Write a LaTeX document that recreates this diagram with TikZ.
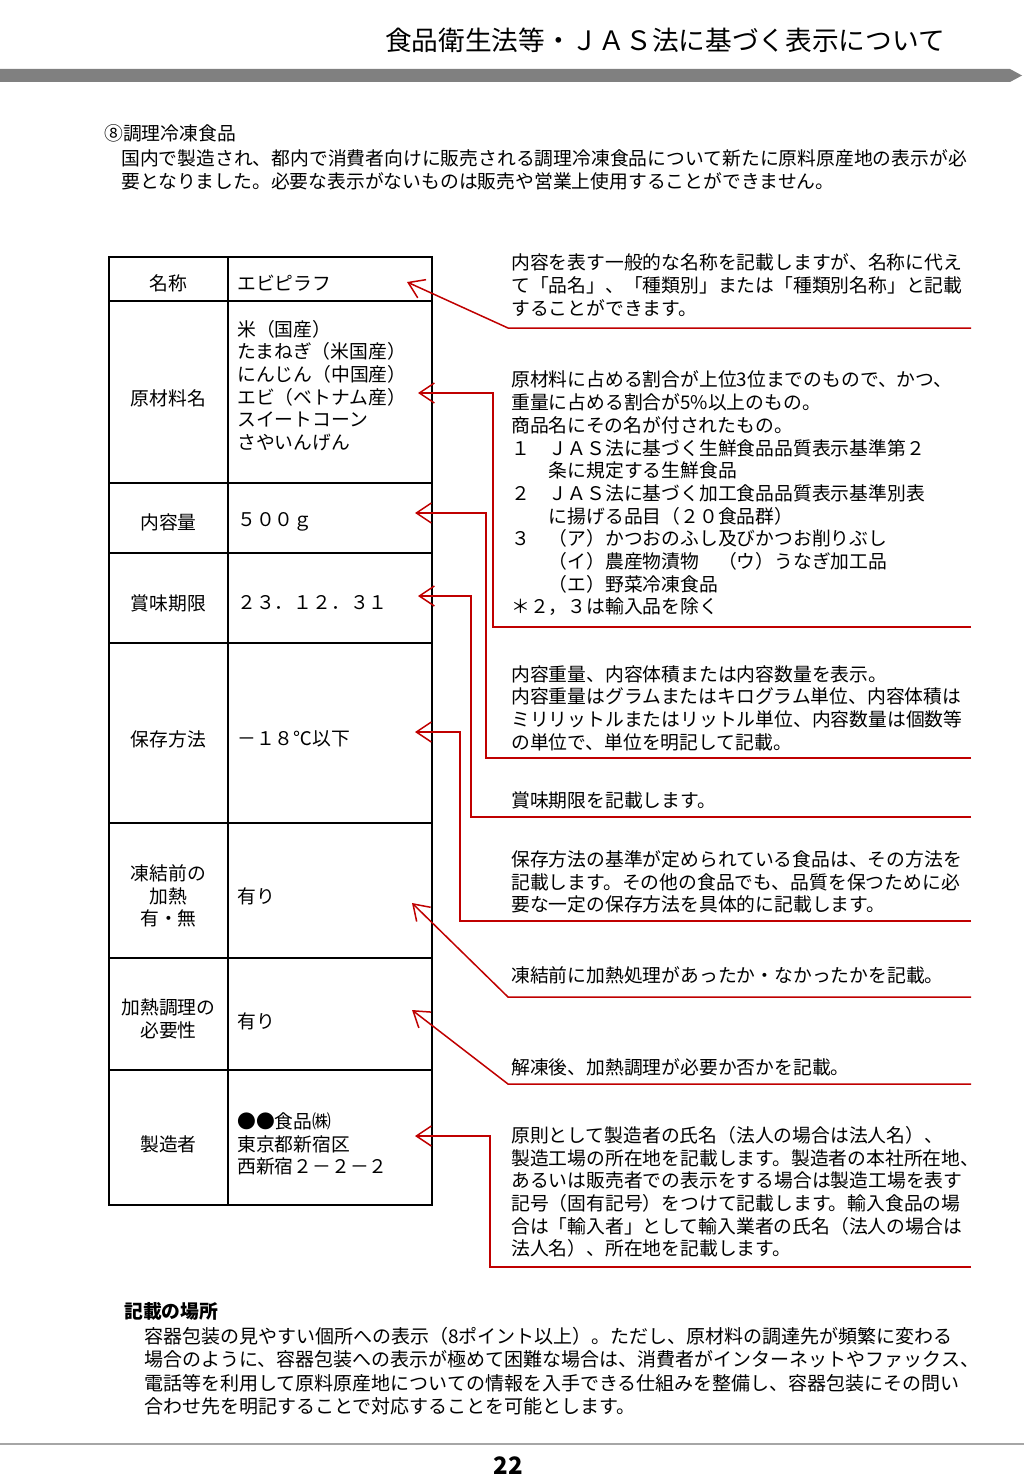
\documentclass[tikz,border=0pt]{standalone}
\usepackage{fontspec}
\setmainfont{Noto Sans CJK JP}
\usetikzlibrary{arrows.meta}
\definecolor{leadred}{RGB}{192,0,0}
\definecolor{bargray}{RGB}{128,128,128}

\begin{document}
\begin{tikzpicture}[x=1pt, y=-1pt,
    body/.style={font=\fontsize{18.8}{22.7}\selectfont, inner sep=0pt, align=left},
    cell/.style={body, align=center},
    note/.style={body, anchor=west},
    leader/.style={draw=leadred, line width=1.5pt, line join=miter,
      -{Straight Barb[length=15pt,width=20pt]}},
    rule/.style={line width=1.8pt}]

    % Page
    \fill[white] (0,0) rectangle (1024,1479);
    \useasboundingbox (0,0) rectangle (1024,1479);

    % Header
    \node[font=\fontsize{26.7}{30}\selectfont, inner sep=0pt] (title) at (665,40)
      {食品衛生法等・ＪＡＳ法に基づく表示について};
    \fill[bargray] (0,69) -- (1010,69) -- (1022,75.5) -- (1010,82) -- (0,82) -- cycle;

    % Introduction
    \node[note] (head) at (104,133) {⑧調理冷凍食品};
    \node[note] (intro) at (121,169.5)
      {国内で製造され、都内で消費者向けに販売される調理冷凍食品について新たに原料原産地の表示が必\\
       要となりました。必要な表示がないものは販売や営業上使用することができません。};

    % Label table
    \draw[rule] (109,257) rectangle (432,1205);
    \draw[rule] (228,257) -- (228,1205);
    \foreach \y in {301,483,553,643,823,958,1070}
      \draw[rule] (109,\y) -- (432,\y);

    \node[cell] (lab1) at (168.5,283) {名称};
    \node[cell] (lab2) at (168.5,398) {原材料名};
    \node[cell] (lab3) at (168.5,522) {内容量};
    \node[cell] (lab4) at (168.5,603) {賞味期限};
    \node[cell] (lab5) at (168.5,739) {保存方法};
    \node[cell] (lab6) at (168.5,896) {凍結前の\\加熱\\有・無};
    \node[cell] (lab7) at (168.5,1019) {加熱調理の\\必要性};
    \node[cell] (lab8) at (168.5,1144) {製造者};

    \node[note] (val1) at (237,283) {エビピラフ};
    \node[note] (val2) at (237,385.5)
      {米（国産）\\たまねぎ（米国産）\\にんじん（中国産）\\エビ（ベトナム産）\\スイートコーン\\さやいんげん};
    \node[note] (val3) at (237,522) {５００ｇ};
    \node[note] (val4) at (237,603) {２３．１２．３１};
    \node[note] (val5) at (237,739) {－１８℃以下};
    \node[note] (val6) at (237,896) {有り};
    \node[note] (val7) at (237,1021) {有り};
    \node[note] (val8) at (237,1144) {●●食品㈱\\東京都新宿区\\西新宿２－２－２};

    % Explanations
    \node[note] (exp1) at (511,285)
      {内容を表す一般的な名称を記載しますが、名称に代え\\
       て「品名」、「種類別」または「種類別名称」と記載\\
       することができます。};
    \node[note] (exp2) at (511,493.5)
      {原材料に占める割合が上位3位までのもので、かつ、\\
       重量に占める割合が5\%以上のもの。\\
       商品名にその名が付されたもの。\\
       １　ＪＡＳ法に基づく生鮮食品品質表示基準第２\\
       　　条に規定する生鮮食品\\
       ２　ＪＡＳ法に基づく加工食品品質表示基準別表\\
       　　に揚げる品目（２０食品群）\\
       ３　（ア）かつおのふし及びかつお削りぶし\\
       　　（イ）農産物漬物　（ウ）うなぎ加工品\\
       　　（エ）野菜冷凍食品\\
       ＊２，３は輸入品を除く};
    \node[note] (exp3) at (511,708)
      {内容重量、内容体積または内容数量を表示。\\
       内容重量はグラムまたはキログラム単位、内容体積は\\
       ミリリットルまたはリットル単位、内容数量は個数等\\
       の単位で、単位を明記して記載。};
    \node[note] (exp4) at (511,800) {賞味期限を記載します。};
    \node[note] (exp5) at (511,882)
      {保存方法の基準が定められている食品は、その方法を\\
       記載します。その他の食品でも、品質を保つために必\\
       要な一定の保存方法を具体的に記載します。};
    \node[note] (exp6) at (511,975) {凍結前に加熱処理があったか・なかったかを記載。};
    \node[note] (exp7) at (511,1067) {解凍後、加熱調理が必要か否かを記載。};
    \node[note] (exp8) at (511,1192)
      {原則として製造者の氏名（法人の場合は法人名）、\\
       製造工場の所在地を記載します。製造者の本社所在地、\\
       あるいは販売者での表示をする場合は製造工場を表す\\
       記号（固有記号）をつけて記載します。輸入食品の場\\
       合は「輸入者」として輸入業者の氏名（法人の場合は\\
       法人名）、所在地を記載します。};

    % Leader points: right end, corner, tip
    \coordinate (r1) at (971,328);  \coordinate (c1) at (508,328);  \coordinate (t1) at (407,282);
    \coordinate (r2) at (971,627);  \coordinate (c2) at (493,393);  \coordinate (t2) at (418,393);
    \coordinate (r3) at (971,758);  \coordinate (c3) at (486,513);  \coordinate (t3) at (415,513);
    \coordinate (r4) at (971,817);  \coordinate (c4) at (471,596);  \coordinate (t4) at (418,596);
    \coordinate (r5) at (971,921);  \coordinate (c5) at (460,732);  \coordinate (t5) at (415,732);
    \coordinate (r6) at (971,997);  \coordinate (c6) at (508,997);  \coordinate (t6) at (412,903);
    \coordinate (r7) at (971,1084); \coordinate (c7) at (508,1084); \coordinate (t7) at (412,1010);
    \coordinate (r8) at (971,1267); \coordinate (c8) at (490,1136); \coordinate (t8) at (415,1136);

    % Leaders
    \foreach \i in {2,3,4,5,8}
      \draw[leader] (r\i) -| (c\i) -- (t\i);
    \foreach \i in {1,6,7}
      \draw[leader] (r\i) -- (c\i) -- (t\i);

    % Place of labelling
    \node[note, font=\fontsize{18.8}{22.7}\selectfont\bfseries] (place) at (124,1311) {記載の場所};
    \node[note, font=\fontsize{19}{23.4}\selectfont] (placetext) at (144,1371)
      {容器包装の見やすい個所への表示（8ポイント以上）。ただし、原材料の調達先が頻繁に変わる\\
       場合のように、容器包装への表示が極めて困難な場合は、消費者がインターネットやファックス、\\
       電話等を利用して原料原産地についての情報を入手できる仕組みを整備し、容器包装にその問い\\
       合わせ先を明記することで対応することを可能とします。};

    % Footer
    \draw[line width=2pt, gray!70] (0,1444) -- (1024,1444);
    \node[font=\fontsize{24}{24}\selectfont\bfseries, inner sep=0pt] (page) at (508,1466) {22};
\end{tikzpicture}
\end{document}
